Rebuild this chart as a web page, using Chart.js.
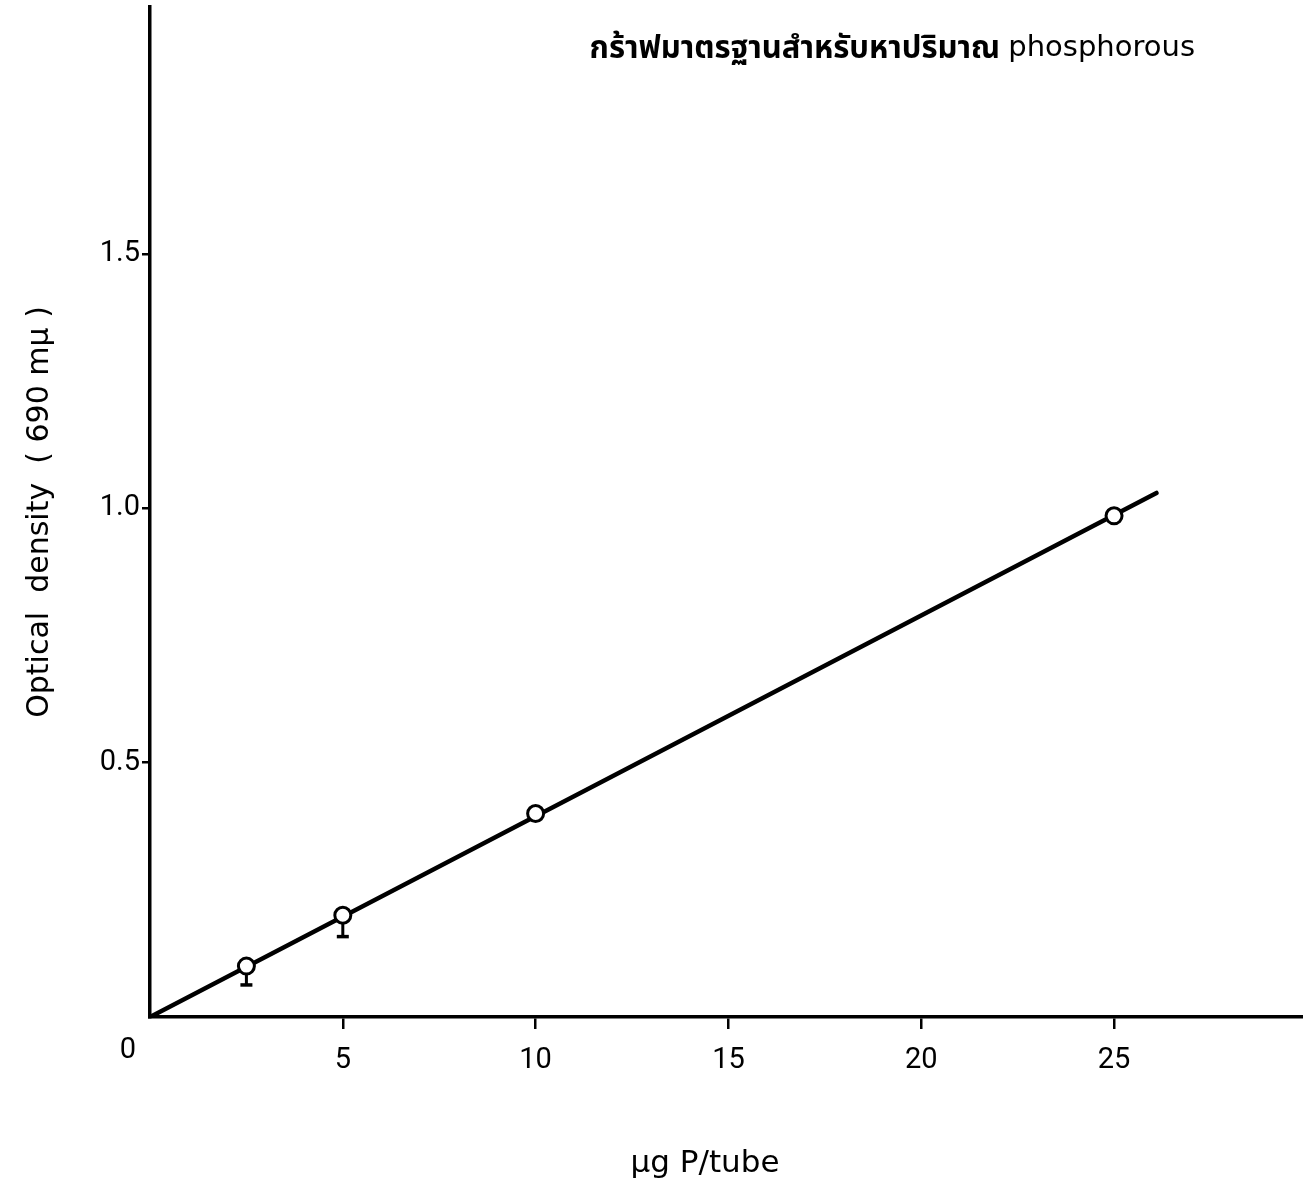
<!DOCTYPE html>
<html lang="th">
<head>
  <meta charset="UTF-8">
  <title>Phosphorous standard curve</title>
  <script src="https://cdn.jsdelivr.net/npm/chart.js"></script>
  <style>
    body { margin: 0; background: #fff; }
    #wrap { width: 1303px; height: 1192px; }
  </style>
</head>
<body>
  <div id="wrap"><canvas id="myChart" width="1303" height="1192"></canvas></div>

  <script>
    // measured points (ug P per tube vs optical density)
    const doseUg = [2.5, 5, 10, 25];
    const opticalDensity = [0.1, 0.2, 0.4, 0.985];
    const errorLow = [0.063, 0.158, null, null];

    // fitted straight line
    const fitX = [0, 26.1];
    const fitY = [0, 1.03];

    const xTicks = [5, 10, 15, 20, 25];
    const yTicks = [0.5, 1.0, 1.5];
    const yTickLabels = ['0.5', '1.0', '1.5'];

    const titleThai = 'กร้าฟมาตรฐานสำหรับหาปริมาณ';
    const titleLatin = 'phosphorous';
    const xTitle = 'μg P/tube';
    const yTitle = 'Optical  density  ( 690 mμ )';

    const numFont = "'Liberation Sans Narrow', Roboto, sans-serif";

    let datasets = [];
    datasets.push({
      label: 'points',
      data: doseUg.map((x, i) => ({ x: x, y: opticalDensity[i] })),
      showLine: false,
      pointRadius: 8,
      pointBorderWidth: 3,
      pointBackgroundColor: '#fff',
      pointBorderColor: '#000',
      order: 0
    });
    doseUg.forEach((x, i) => {
      if (errorLow[i] == null) return;
      datasets.push({
        label: 'err' + i,
        data: [{ x: x, y: opticalDensity[i] }, { x: x, y: errorLow[i] }],
        showLine: true,
        borderColor: '#000',
        borderWidth: 3,
        pointStyle: 'line',
        pointRadius: [0, 6],
        pointBorderWidth: 3.5,
        pointBorderColor: '#000',
        order: 1
      });
    });
    datasets.push({
      label: 'fit',
      data: fitX.map((x, i) => ({ x: x, y: fitY[i] })),
      showLine: true,
      borderColor: '#000',
      borderWidth: 4.5,
      borderCapStyle: 'round',
      pointRadius: 0,
      order: 2
    });

    // extra texts: title, x axis title, the lone "0" at the corner
    const textPlugin = {
      id: 'texts',
      afterDraw(chart) {
        const c = chart.ctx;
        const xs = chart.scales.x, ys = chart.scales.y;
        c.save();
        c.fillStyle = '#000';
        c.textBaseline = 'alphabetic';

        c.textAlign = 'right';
        c.font = "29px 'DejaVu Sans', sans-serif";
        c.fillText(titleLatin, 1195, 56);
        c.font = "bold 31px 'Noto Sans Thai', 'Loma', 'Garuda', 'Norasi', 'DejaVu Sans', sans-serif";
        c.fillText(titleThai, 1000, 58);

        c.textAlign = 'center';
        c.font = "31px 'DejaVu Sans', sans-serif";
        c.fillText(xTitle, 705, 1172);

        c.textBaseline = 'middle';
        c.font = '29px ' + numFont;
        c.fillText('0', xs.getPixelForValue(0) - 22, ys.getPixelForValue(0) + 34);
        c.restore();
      }
    };

    let ctx = document.getElementById('myChart').getContext('2d');
    new Chart(ctx, {
      type: 'scatter',
      data: { datasets: datasets },
      options: {
        responsive: false,
        animation: false,
        layout: { autoPadding: false, padding: { top: 7, right: 0, left: 0, bottom: 0 } },
        plugins: { legend: { display: false }, tooltip: { enabled: false }, title: { display: false } },
        scales: {
          x: {
            type: 'linear',
            min: 0,
            max: 29.9,
            afterFit: s => { s.height = 175; s.paddingLeft = 0; s.paddingRight = 0; },
            afterBuildTicks: s => { s.ticks = xTicks.map(v => ({ value: v })); },
            grid: { drawOnChartArea: false, drawTicks: true, tickLength: 12, color: '#000', lineWidth: 2.5 },
            border: { display: true, color: '#000', width: 3.5 },
            ticks: { color: '#000', padding: 14, maxRotation: 0, font: { family: numFont, size: 29 } }
          },
          y: {
            type: 'linear',
            min: 0,
            max: 1.985,
            afterFit: s => { s.width = 150; s.paddingTop = 0; s.paddingBottom = 0; },
            afterBuildTicks: s => { s.ticks = yTicks.map(v => ({ value: v })); },
            grid: { drawOnChartArea: false, drawTicks: true, tickLength: 8, color: '#000', lineWidth: 2.5 },
            border: { display: true, color: '#000', width: 3.5 },
            ticks: {
              color: '#000', padding: 2,
              font: { family: numFont, size: 29 },
              callback: (v) => yTickLabels[yTicks.indexOf(v)]
            },
            title: {
              display: true,
              text: yTitle,
              color: '#000',
              padding: { top: 22, bottom: 0 },
              font: { family: "'DejaVu Sans', sans-serif", size: 30 }
            }
          }
        }
      },
      plugins: [textPlugin]
    });
  </script>
</body>
</html>
